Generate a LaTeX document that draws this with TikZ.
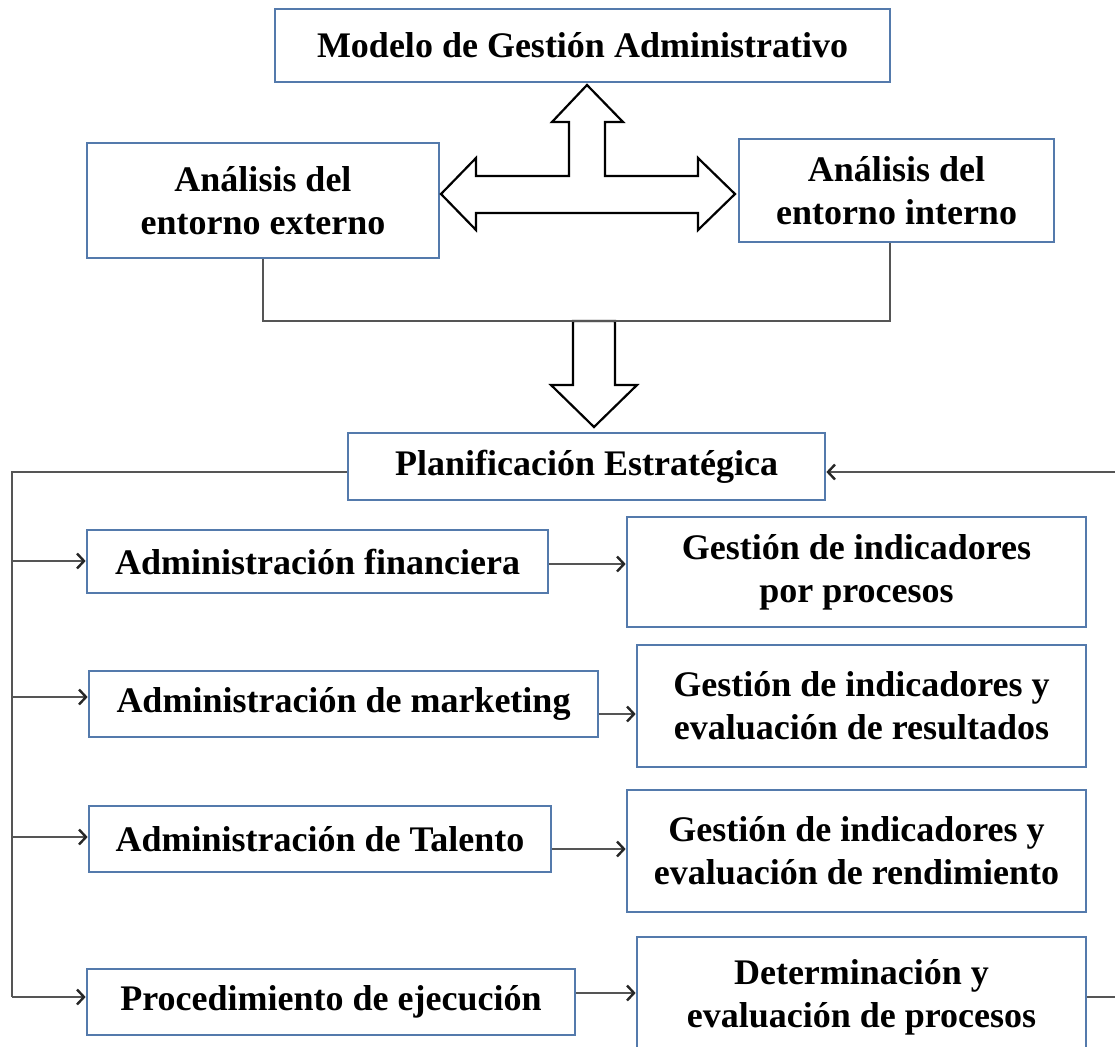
\documentclass[tikz,border=0pt]{standalone}
\usepackage{fontspec}
\setmainfont{Liberation Serif}
\usetikzlibrary{arrows.meta}
\definecolor{boxblue}{RGB}{84,122,172}
\definecolor{linegray}{RGB}{85,85,85}
\begin{document}
\begin{tikzpicture}[x=1pt,y=-1pt,
  box/.style={draw=boxblue, line width=2.7pt, fill=white, inner sep=0pt, align=center,
              font=\fontsize{36}{43}\selectfont\bfseries},
  conn/.style={draw=linegray, line width=1.5pt},
  arr/.style={conn, -{Straight Barb[length=7pt,width=15pt,line width=2.4pt,color=black!85]}},
  blockarrow/.style={draw=black, line width=2.2pt, fill=white, line join=miter}]
\useasboundingbox (0,0) rectangle (1115,1046);
\clip (0,0) rectangle (1115,1046);

% nodes
\node[box, minimum width=615pt, minimum height=73pt] (modelo) at (582.5,45.5) {Modelo de Gestión Administrativo};
\node[box, minimum width=352pt, minimum height=115pt] (ext) at (263,200.5) {Análisis del\\entorno externo};
\node[box, minimum width=315pt, minimum height=103pt] (int) at (896.5,190.5) {Análisis del\\entorno interno};
\node[box, minimum width=477pt, minimum height=67pt] (plan) at (586.5,466.5) {Planificación Estratégica};
\node[box, minimum width=461pt, minimum height=63pt] (fin) at (317.5,561.5) {Administración financiera};
\node[box, minimum width=459pt, minimum height=110pt] (gproc) at (856.5,572) {Gestión de indicadores\\por procesos};
\node[box, minimum width=509pt, minimum height=66pt] (mkt) at (343.5,704) {Administración de marketing};
\node[box, minimum width=449pt, minimum height=122pt] (gres) at (861.5,706) {Gestión de indicadores y\\evaluación de resultados};
\node[box, minimum width=462pt, minimum height=66pt] (tal) at (320,839) {Administración de Talento};
\node[box, minimum width=459pt, minimum height=122pt] (grend) at (856.5,851) {Gestión de indicadores y\\evaluación de rendimiento};
\node[box, minimum width=488pt, minimum height=66pt] (proc) at (331,1002) {Procedimiento de ejecución};
\node[box, minimum width=449pt, minimum height=120pt] (det) at (861.5,997) {Determinación y\\evaluación de procesos};

% block arrows
\draw[blockarrow] (587,85) -- (623,122) -- (605,122) -- (605,176) -- (698,176) -- (698,158)
  -- (735,194) -- (698,230) -- (698,213) -- (476,213) -- (476,230) -- (441,194)
  -- (476,158) -- (476,176) -- (569,176) -- (569,122) -- (552,122) -- cycle;
\draw[blockarrow] (573,321) -- (615,321) -- (615,385) -- (637,385) -- (594,427)
  -- (551,385) -- (573,385) -- cycle;

% bracket from both analyses
\coordinate (bi) at (890,321);
\draw[conn] (ext.south) |- (bi) -- (bi |- int.south);

% left distribution line
\coordinate (L0) at (12,472);
\coordinate (L1) at (12,561);
\coordinate (L2) at (12,697);
\coordinate (L3) at (12,837);
\coordinate (L4) at (12,997);
\draw[conn] (plan.west |- L0) -- (L0) -- (L4);
\draw[arr] (L1) -- (L1 -| fin.west);
\draw[arr] (L2) -- (L2 -| mkt.west);
\draw[arr] (L3) -- (L3 -| tal.west);
\draw[arr] (L4) -- (L4 -| proc.west);

% right-hand arrows
\coordinate (r1) at (0,564);
\coordinate (r2) at (0,714);
\coordinate (r3) at (0,849);
\coordinate (r4) at (0,993);
\draw[arr] (fin.east |- r1) -- (gproc.west |- r1);
\draw[arr] (mkt.east |- r2) -- (gres.west |- r2);
\draw[arr] (tal.east |- r3) -- (grend.west |- r3);
\draw[arr] (proc.east |- r4) -- (det.west |- r4);

% feedback loop
\coordinate (R) at (1115.5,997);
\draw[arr] (det.east |- R) -- (R) -- (R |- L0) -- (plan.east |- L0);
\end{tikzpicture}
\end{document}
